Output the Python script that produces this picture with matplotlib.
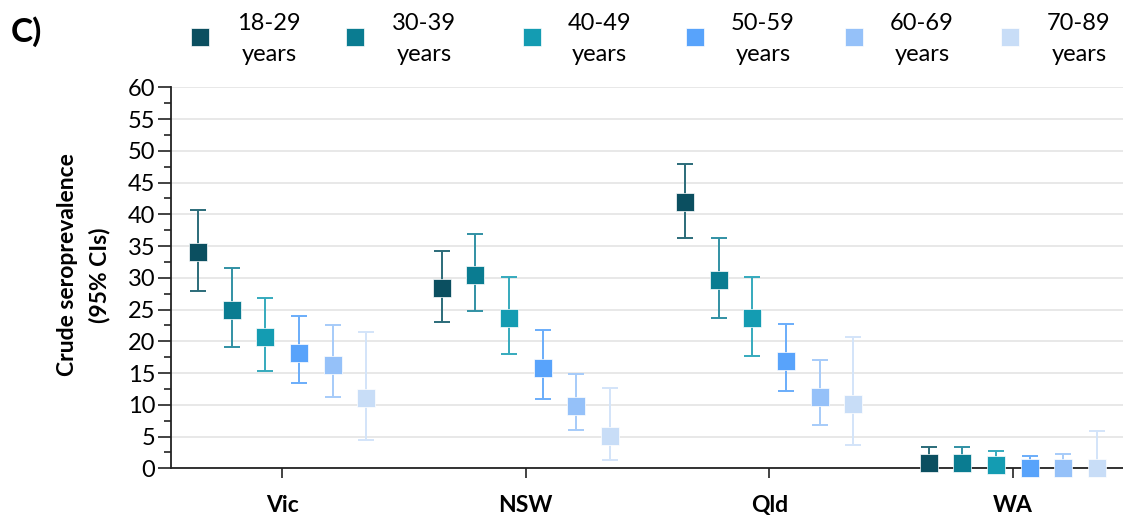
import matplotlib
matplotlib.use("Agg")
import matplotlib.pyplot as plt
import numpy as np
from matplotlib.lines import Line2D
from matplotlib.ticker import MultipleLocator

plt.rcParams['font.family'] = ['Lato', 'DejaVu Sans']

states = ["Vic", "NSW", "Qld", "WA"]
age_groups = ["18-29\nyears", "30-39\nyears", "40-49\nyears", "50-59\nyears", "60-69\nyears", "70-89\nyears"]

# estimates per age group, across states (Vic, NSW, Qld, WA)
est_18_29 = [34.0, 28.4, 42.0, 0.9]
est_30_39 = [24.9, 30.5, 29.7, 0.9]
est_40_49 = [20.7, 23.7, 23.6, 0.5]
est_50_59 = [18.2, 15.8, 16.9, 0.0]
est_60_69 = [16.3, 9.8, 11.2, 0.0]
est_70_89 = [11.0, 5.1, 10.1, 0.0]

lo_18_29 = [28.0, 23.0, 36.3, 0.0]
lo_30_39 = [19.1, 24.7, 23.6, 0.0]
lo_40_49 = [15.3, 18.0, 17.7, 0.0]
lo_50_59 = [13.4, 10.9, 12.1, 0.0]
lo_60_69 = [11.2, 6.0, 6.8, 0.0]
lo_70_89 = [4.5, 1.3, 3.7, 0.0]

hi_18_29 = [40.7, 34.3, 47.9, 3.3]
hi_30_39 = [31.5, 36.9, 36.3, 3.4]
hi_40_49 = [26.9, 30.1, 30.2, 2.8]
hi_50_59 = [24.0, 21.8, 22.7, 1.9]
hi_60_69 = [22.5, 14.9, 17.0, 2.3]
hi_70_89 = [21.5, 12.7, 20.7, 5.9]

estimates = [est_18_29, est_30_39, est_40_49, est_50_59, est_60_69, est_70_89]
lowers = [lo_18_29, lo_30_39, lo_40_49, lo_50_59, lo_60_69, lo_70_89]
uppers = [hi_18_29, hi_30_39, hi_40_49, hi_50_59, hi_60_69, hi_70_89]

marker_colors = ["#0b4f60", "#0a7c91", "#149cb2", "#58a3fb", "#95c1f9", "#c8ddf7"]
err_colors = ["#2b6b79", "#3191a4", "#35aabd", "#6aadfa", "#a6cbf9", "#d3e4f9"]

fig = plt.figure(figsize=(11.23, 5.16), dpi=100)
ax = fig.add_axes([0.1523, 0.0924, 0.8477, 0.7384])

x = np.arange(len(states))
step = 0.138
for i in range(6):
    xi = x + (i - 2.5) * step
    est = np.array(estimates[i])
    lo = np.array(lowers[i])
    hi = np.array(uppers[i])
    ax.errorbar(xi, est, yerr=[est - lo, hi - est], fmt='none', ecolor=err_colors[i],
                elinewidth=1.4, capsize=6, capthick=1.4, zorder=3, clip_on=False)
    ax.plot(xi, est, linestyle='none', marker='s', markersize=12.5,
            markerfacecolor=marker_colors[i], markeredgecolor='white', markeredgewidth=0.5,
            zorder=5, clip_on=False)

ax.set_ylim(0, 60)
ax.set_xlim(-0.456, 3.452)
ax.yaxis.set_major_locator(MultipleLocator(5))
ax.yaxis.set_minor_locator(MultipleLocator(2.5))
ax.set_xticks(x)
ax.set_xticklabels(states, fontweight='bold', fontsize=16.5)
ax.tick_params(axis='y', which='major', length=9.5, width=1.2, labelsize=17, pad=2, color='#222222')
ax.tick_params(axis='y', which='minor', length=5, width=1.2, color='#222222')
ax.tick_params(axis='x', which='major', length=7.5, width=1.2, pad=12, color='#222222')
ax.grid(axis='y', color='#e6e6e6', linewidth=1.3, zorder=0)
ax.set_axisbelow(True)
for s in ['top', 'right']:
    ax.spines[s].set_visible(False)
for s in ['left', 'bottom']:
    ax.spines[s].set_linewidth(1.3)
    ax.spines[s].set_color('#222222')
    ax.spines[s].set_zorder(4)

fig.text(67 / 1123, 1 - 265 / 516, "Crude seroprevalence", rotation=90, ha='center', va='center',
         fontsize=16.5, fontweight='bold')
fig.text(100 / 1123, 1 - 275 / 516, "(95% CIs)", rotation=90, ha='center', va='center',
         fontsize=16.5, fontweight='bold')

fig.text(11 / 1123, 1 - 32 / 516, "C)", ha='left', va='center', fontsize=24, fontweight='bold')

# legend
mx = [200, 355, 532, 695, 854, 1010]
tx = [237, 392, 568, 731, 890, 1047]
for i in range(6):
    fig.add_artist(Line2D([mx[i] / 1123], [1 - 37 / 516], transform=fig.transFigure,
                          marker='s', markersize=12.5, linestyle='none',
                          markerfacecolor=marker_colors[i], markeredgecolor='white',
                          markeredgewidth=0.5))
    fig.text(tx[i] / 1123, 1 - 39 / 516, age_groups[i], ha='left', va='center',
             multialignment='center', fontsize=17, linespacing=1.6)

fig.savefig("out.png", dpi=100)
